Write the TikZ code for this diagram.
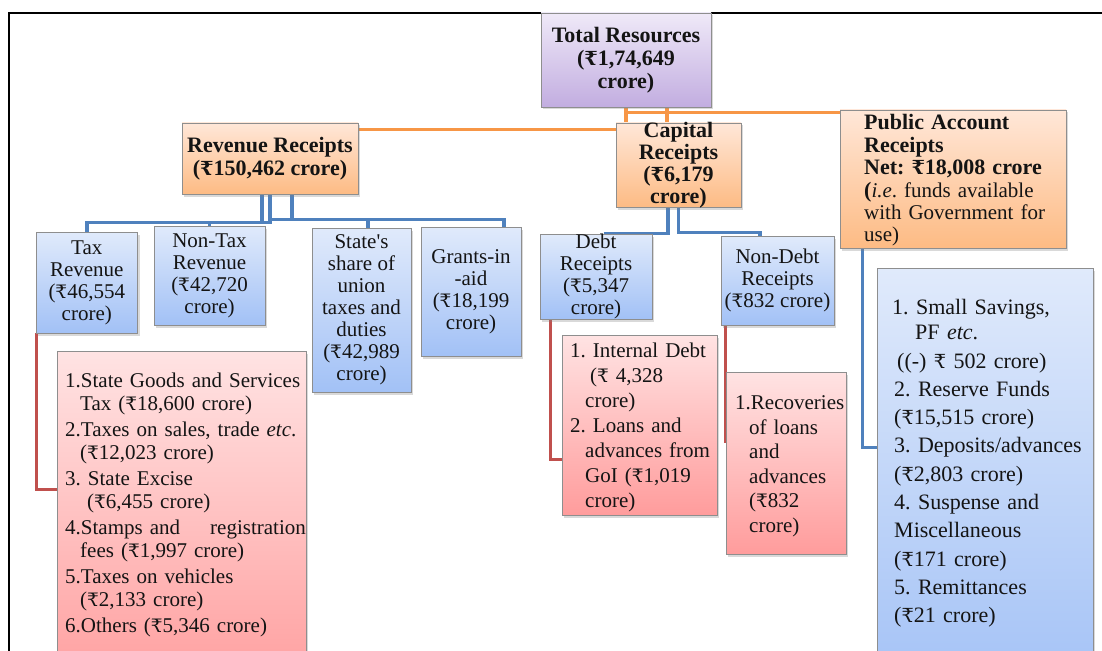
\documentclass[tikz,border=0pt]{standalone}
\usepackage{fontspec}
\setmainfont{Liberation Serif}
\newfontfamily\rsfont[Scale=0.88]{DejaVu Serif}
\usetikzlibrary{shadows,calc}
\pgfdeclarelayer{bg}
\pgfsetlayers{bg,main}
\frenchspacing
\definecolor{boxgray}{HTML}{8E8E8E}
\definecolor{txt}{HTML}{141414}
\definecolor{purT}{HTML}{EFE9F8}
\definecolor{purB}{HTML}{C2ADE0}
\definecolor{oraT}{HTML}{FFE7D8}
\definecolor{oraB}{HTML}{FDBB84}
\definecolor{bluT}{HTML}{E0EAFB}
\definecolor{bluB}{HTML}{A2C1F6}
\definecolor{redT}{HTML}{FFE3E3}
\definecolor{redB}{HTML}{FF9C9C}
\definecolor{blueline}{HTML}{4F81BD}
\definecolor{orangeline}{HTML}{F79646}
\definecolor{redline}{HTML}{C0504D}
\newcommand{\Rs}{{\rsfont ₹}}
\tikzset{
  box/.style={draw=boxgray, line width=0.9pt, inner sep=2pt, align=center, text=txt,
    drop shadow={shadow xshift=2pt,shadow yshift=-2.5pt,opacity=0.3}},
  purplebox/.style={box, top color=purT, bottom color=purB},
  orangebox/.style={box, top color=oraT, bottom color=oraB},
  bluebox/.style={box, top color=bluT, bottom color=bluB},
  redbox/.style={box, top color=redT, bottom color=redB},
  hfont/.style={font=\frenchspacing\bfseries\fontsize{22}{23}\selectfont},
  rfont/.style={font=\frenchspacing\fontsize{21}{22}\selectfont},
  listtext/.style={inner sep=0pt, anchor=north west, align=left, text=txt},
  conn/.style={line width=3.6pt},
  bl/.style={conn, draw=blueline},
  ol/.style={conn, draw=orangeline},
  rl/.style={conn, draw=redline},
}
\begin{document}
\begin{tikzpicture}[x=1pt,y=-1pt]
\useasboundingbox (0,0) rectangle (1102,650);

% top level
\node[purplebox, hfont, minimum width=170pt, minimum height=94pt] (tot) at (626,60)
  {Total Resources\\(\Rs1,74,649\\crore)};
\node[orangebox, hfont, minimum width=176pt, minimum height=71pt] (rev) at (270,158.5)
  {Revenue Receipts\\(\Rs150,462 crore)};
\node[orangebox, font=\bfseries\fontsize{22}{22}\selectfont, inner ysep=-4pt, minimum width=125pt, minimum height=84pt] (cap) at (678.5,165)
  {Capital\\Receipts\\(\Rs6,179\\crore)};
\node[orangebox, minimum width=226pt, minimum height=138pt] (pub) at (953,179) {};
\node[listtext, text width=205pt, font=\frenchspacing\fontsize{21}{22.4}\selectfont] (pubT) at (864,114.5)
  {{\bfseries\fontsize{22}{22.4}\selectfont Public Account\\Receipts\\Net: \Rs18,008 crore\\(}\textit{i.e}. funds available\\with Government for\\use)};

% second level
\node[bluebox, rfont, minimum width=101.5pt, minimum height=101pt] (tax) at (86.75,282.5)
  {Tax\\Revenue\\(\Rs46,554\\crore)};
\node[bluebox, rfont, minimum width=111pt, minimum height=99pt] (ntax) at (209.5,275.5)
  {Non-Tax\\Revenue\\(\Rs42,720\\crore)};
\node[bluebox, rfont, minimum width=99pt, minimum height=164pt] (state) at (361.5,310)
  {State\textquotesingle s\\share of\\union\\taxes and\\duties\\(\Rs42,989\\crore)};
\node[bluebox, rfont, minimum width=100pt, minimum height=129pt] (grant) at (471,291.5)
  {Grants-in\\-aid\\(\Rs18,199\\crore)};
\node[bluebox, rfont, inner ysep=-3pt, minimum width=112pt, minimum height=85pt] (debt) at (596,276.5)
  {Debt\\Receipts\\(\Rs5,347\\crore)};
\node[bluebox, rfont, minimum width=113pt, minimum height=89pt] (ndebt) at (777.5,280.5)
  {Non-Debt\\Receipts\\(\Rs832 crore)};

% lists
\node[redbox, minimum width=249pt, minimum height=349pt] (tlist) at (181.5,525.5) {};
\node[listtext, text width=245pt, font=\frenchspacing\fontsize{21}{23}\selectfont] (tlistT) at (65,372.5)
  {1.State Goods and Services\\
   \hspace*{15pt}Tax (\Rs18,600 crore)\\[3pt]
   2.Taxes on sales, trade \textit{etc}.\\
   \hspace*{15pt}(\Rs12,023 crore)\\[3pt]
   3. State Excise\\
   \hspace*{22pt}(\Rs6,455 crore)\\[3pt]
   4.Stamps and\hspace{1.1em} registration\\
   \hspace*{15pt}fees (\Rs1,997 crore)\\[3pt]
   5.Taxes on vehicles\\
   \hspace*{15pt}(\Rs2,133 crore)\\[3pt]
   6.Others (\Rs5,346 crore)};

\node[redbox, minimum width=155pt, minimum height=180pt] (dlist) at (639.5,425) {};
\node[listtext, text width=150pt, font=\frenchspacing\fontsize{21}{25}\selectfont] (dlistT) at (570,342.5)
  {1. Internal Debt\\
   \hspace*{20pt}(\Rs\ 4,328\\
   \hspace*{15pt}crore)\\
   2. Loans and\\
   \hspace*{15pt}advances from\\
   \hspace*{15pt}GoI (\Rs1,019\\
   \hspace*{15pt}crore)};

\node[redbox, minimum width=120pt, minimum height=182pt] (ndlist) at (786,463) {};
\node[listtext, text width=115pt, font=\frenchspacing\fontsize{21}{24.5}\selectfont] (ndlistT) at (735,395.5)
  {1.Recoveries\\
   \hspace*{14pt}of loans\\
   \hspace*{14pt}and\\
   \hspace*{14pt}advances\\
   \hspace*{14pt}(\Rs832\\
   \hspace*{14pt}crore)};

\node[bluebox, minimum width=216pt, minimum height=432pt] (plist) at (985,484) {};
\node[listtext, text width=200pt, font=\frenchspacing\fontsize{22}{28.3}\selectfont] (plistT) at (892,299.5)
  {1. Small Savings,\\[-3.5pt]
   \hspace*{23pt}PF \textit{etc}.\\
   \hspace*{5pt}((-) \Rs\ 502 crore)\\
   \hspace*{2pt}2. Reserve Funds\\
   \hspace*{2pt}(\Rs15,515 crore)\\
   \hspace*{2pt}3. Deposits/advances\\
   \hspace*{2pt}(\Rs2,803 crore)\\
   \hspace*{2pt}4. Suspense and\\
   \hspace*{2pt}Miscellaneous\\
   \hspace*{2pt}(\Rs171 crore)\\
   \hspace*{2pt}5. Remittances\\
   \hspace*{2pt}(\Rs21 crore)};

\begin{pgfonlayer}{bg}
  % frame
  \draw[line width=1.8pt, black] (9,680) |- (1120,13);
  % orange connectors
  \draw[ol] (tot.south) |- ([yshift=-7pt]rev.north east);
  \draw[ol] ([xshift=41pt]tot.south) -- ([xshift=41pt]tot.south |- cap.north);
  \draw[ol] (tot.south) |- ([yshift=-3pt]pub.north west);
  % blue connectors from revenue
  \draw[bl] ([xshift=-8pt]rev.south) |- ($(tax.north)+(0,-9)$) -- (tax.north);
  \draw[bl] (rev.south) |- ($(ntax.north)+(0,-3)$) -- (ntax.north);
  \draw[bl] ([xshift=22pt]rev.south) |- ($([xshift=6.5pt]state.north)+(0,-8)$) -- ([xshift=6.5pt]state.north);
  \draw[bl] (rev.south) |- ($([xshift=33pt]grant.north)+(0,-7)$) -- ([xshift=33pt]grant.north);
  % blue connectors from capital
  \draw[bl] ([xshift=-10.5pt]cap.south) |- ([xshift=8pt]debt.north);
  \draw[bl] (cap.south) |- ($([xshift=-17.5pt]ndebt.north)+(0,-3)$) -- ([xshift=-17.5pt]ndebt.north);
  % public account list
  \draw[bl] ([xshift=23pt]pub.south west) |- ([yshift=-180pt]plist.north west);
  % red connectors
  \draw[rl] ([xshift=1pt]tax.south west) |- ([yshift=-139pt]tlist.north west);
  \draw[rl] ([xshift=11pt]debt.south west) |- ([yshift=-125pt]dlist.north west);
  \draw[rl] ([xshift=5pt]ndebt.south west) |- ([yshift=-71pt]ndlist.north west);
\end{pgfonlayer}
\end{tikzpicture}
\end{document}
